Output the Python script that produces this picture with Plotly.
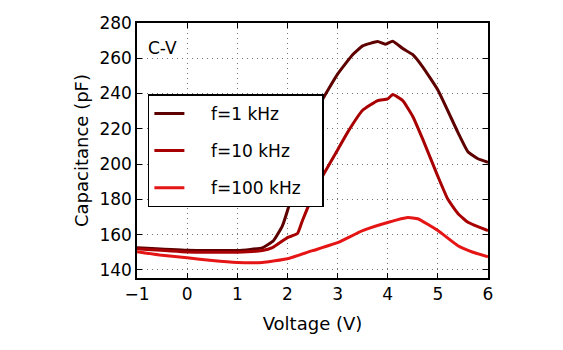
import plotly.graph_objects as go

v_1k = [-1, 0, 1, 1.5, 1.72, 1.9, 2.02, 2.2, 2.45, 2.67, 3.0, 3.3, 3.5, 3.8, 3.95, 4.1, 4.3, 4.5, 4.7, 5.0, 5.4, 5.6, 5.8, 6.0]
c_1k = [152.6, 151.2, 151.0, 152.5, 156.5, 165, 175.4, 194, 219, 235, 251, 262, 267, 269.5, 268, 269.7, 265.5, 262, 255, 242, 218, 207, 203, 201]

v_10k = [-1, 0, 1, 1.5, 1.7, 2.0, 2.2, 2.3, 2.6, 3.0, 3.2, 3.5, 3.8, 4.0, 4.1, 4.3, 4.5, 4.7, 5.0, 5.2, 5.4, 5.6, 5.8, 6.0]
c_10k = [152.0, 150.2, 150.0, 151.0, 152.6, 158.3, 160.6, 168, 188, 208, 218, 230.5, 236.0, 237.0, 239.4, 236, 227, 214, 193, 180, 172, 167, 164.5, 162.3]

v_100k = [-1, -0.5, 0, 0.5, 1, 1.5, 2, 2.5, 3, 3.5, 4, 4.4, 4.6, 5, 5.4, 5.7, 6]
c_100k = [150.3, 148.3, 146.9, 145.3, 144.2, 144.2, 146.3, 150.9, 155.4, 162.3, 166.9, 169.7, 169.0, 162.3, 153.7, 150, 147.4]

labels = ["f=1 kHz", "f=10 kHz", "f=100 kHz"]
colors = ["#5e0000", "#a80000", "#e51515"]

fig = go.Figure()
for xs, ys, name, col in zip([v_1k, v_10k, v_100k], [c_1k, c_10k, c_100k], labels, colors):
    fig.add_trace(go.Scatter(x=xs, y=ys, mode="lines",
                             name="\u00a0\u00a0\u00a0\u00a0" + name + "\u00a0\u00a0\u00a0",
                             legendgroup=name,
                             line=dict(color=col, width=3, shape="spline", smoothing=0.4)))

axis_common = dict(
    showline=True, linecolor="black", linewidth=1.5, mirror="ticks",
    ticks="inside", ticklen=5, tickcolor="black",
    showgrid=True, gridcolor="#777777", griddash="1px,4px", gridwidth=1,
    zeroline=False, tickfont=dict(family="DejaVu Sans", size=17, color="black"),
)

fig.update_layout(
    width=563, height=350,
    margin=dict(l=137, r=75, t=23, b=72),
    paper_bgcolor="white", plot_bgcolor="white",
    font=dict(family="DejaVu Sans", color="black"),
    xaxis=dict(range=[-1, 6], dtick=1, title=dict(text="Voltage (V)", font=dict(size=18), standoff=14), **axis_common),
    yaxis=dict(range=[135.4, 280], tickvals=[140, 160, 180, 200, 220, 240, 260, 280],
               title=dict(text="Capacitance (pF)", font=dict(size=18), standoff=6), **axis_common),
    legend=dict(x=0.031, y=0.72, xanchor="left", yanchor="top",
                bgcolor="white", bordercolor="black", borderwidth=1.5,
                font=dict(size=17), tracegroupgap=12),
    annotations=[dict(text="C-V", x=0.025, y=0.9, xref="paper", yref="paper",
                      xanchor="left", yanchor="middle", showarrow=False,
                      font=dict(size=17))],
)

fig.write_html("out.html")
